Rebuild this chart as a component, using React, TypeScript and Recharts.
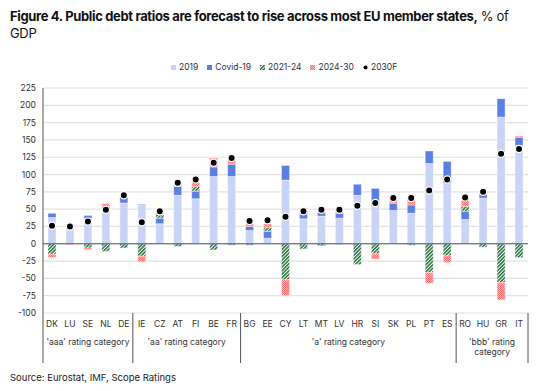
import React from 'react';
import { ComposedChart, Bar, Line, XAxis, YAxis, CartesianGrid, ReferenceLine } from 'recharts';

const countries = ['DK','LU','SE','NL','DE','IE','CZ','AT','FI','BE','FR','BG','EE','CY','LT','MT','LV','HR','SI','SK','PL','PT','ES','RO','HU','GR','IT'];
const groupSizes = [5, 6, 12, 4];
const groupLabels = [["'aaa' rating category"], ["'aa' rating category"], ["'a' rating category"], ["'bbb' rating", 'category']];

const v2019 = [38, 21, 37, 49, 59, 56, 29, 70, 65, 97, 97, 19, 8, 92, 36, 40, 37, 70, 54, 48, 44, 116, 88, 35, 66, 183, 142];
const vCovid = [6, 0, 4, 5, 8, 1, 8, 13, 11, 14, 18, 6, 10, 21, 7, 5, 7, 16, 26, 10.5, 12, 18, 31, 12, 5, 26.5, 12];
const v2124 = [-15, 0, -6, -11, -6, -18, 5.5, -4, 6.5, -9, -2, -2, 6, -52, -7.5, -3, -1, -30, -14.5, 0, -2, -41.5, -17.5, 7, -5, -56, -20];
const v2430 = [-5, -1.5, -2.5, 4, 3, -8, 3, 3, 6, 13, 9, 4, 5, -23, 9, 3, 3, 0, -7.5, 5, 8, -15.5, -9.5, 8.5, 3, -25, 2];
const v2030F = [26, 25, 32, 49, 70, 31, 47, 88, 93, 117, 124, 33, 34, 39, 47, 49, 49, 55, 59, 66, 66, 77, 93, 67, 75, 130, 137];
const yTicks = [-100, -75, -50, -25, 0, 25, 50, 75, 100, 125, 150, 175, 200, 225];
const seriesNames = ['2019', 'Covid-19', '2021-24', '2024-30', '2030F'];

const data = countries.map((c, i) => ({
  country: c,
  y2019: v2019[i],
  covid: vCovid[i],
  p2124: v2124[i],
  p2430: v2430[i],
  f2030: v2030F[i],
}));

const W = 550, H = 391;
const M = { top: 88, right: 22, bottom: 28, left: 8 };
const Y_AXIS_W = 35;
const X_AXIS_H = 50;
const bandW = (W - M.left - M.right - Y_AXIS_W) / countries.length;

const groupStart: Record<number, number> = {};
{
  let acc = 0;
  groupSizes.forEach((s, g) => { groupStart[acc] = g; acc += s; });
}

const C2019 = '#c9d3f5';
const CCOVID = '#5b7fe3';
const TXT = '#333';
const FONT = 'Inter, sans-serif';

function CountryTick(props: any) {
  const { x, y, payload } = props;
  const i = props.index ?? payload?.index;
  const els: any[] = [
    <text key="c" x={x} y={y + 13.5} textAnchor="middle" fontSize={8.5} fill={TXT} fontFamily={FONT}>{payload.value}</text>,
  ];
  if (groupStart[i] !== undefined) {
    const g = groupStart[i];
    const lx = x - bandW / 2;
    els.push(<line key="s" x1={lx} x2={lx} y1={y} y2={y + 50} stroke="#555" strokeWidth={1} />);
    const cx = x + ((groupSizes[g] - 1) / 2) * bandW;
    groupLabels[g].forEach((t, k) => {
      els.push(
        <text key={'g' + k} x={cx} y={y + 31.5 + k * 10} textAnchor="middle" fontSize={8.5} fill={TXT} fontFamily={FONT}>{t}</text>
      );
    });
  }
  if (i === countries.length - 1) {
    const rx = x + bandW / 2;
    els.push(<line key="e" x1={rx} x2={rx} y1={y} y2={y + 50} stroke="#555" strokeWidth={1} />);
  }
  return <g>{els}</g>;
}

function LegendMarker({ k }: { k: number }) {
  if (k === 4) {
    return (
      <svg width={5} height={5} style={{ marginRight: 3 }}>
        <circle cx={2.5} cy={2.5} r={2} fill="#000" />
      </svg>
    );
  }
  const fill = k === 0 ? C2019 : k === 1 ? CCOVID : k === 2 ? 'url(#lgHatch)' : 'url(#lgCheck)';
  return (
    <svg width={5} height={5} style={{ marginRight: 3 }}>
      <rect x={0} y={0} width={5} height={5} fill={fill} />
    </svg>
  );
}

export default function App() {
  return (
    <div style={{ position: 'absolute', left: 0, top: 0, width: W, height: H, background: '#fff', fontFamily: FONT }}>
      <svg width={0} height={0} style={{ position: 'absolute' }}>
        <defs>
          <pattern id="lgHatch" patternUnits="userSpaceOnUse" width={2.5} height={2.5} patternTransform="rotate(45)">
            <rect width={2.5} height={2.5} fill="#fff" />
            <rect width={1.5} height={2.5} fill="#24703c" />
          </pattern>
          <pattern id="lgCheck" patternUnits="userSpaceOnUse" width={2} height={2}>
            <rect width={2} height={2} fill="#ffb3b3" />
            <rect width={1} height={1} fill="#ff6f6f" />
            <rect x={1} y={1} width={1} height={1} fill="#ff6f6f" />
          </pattern>
        </defs>
      </svg>
      <ComposedChart width={W} height={H} data={data} margin={M} stackOffset="sign" barSize={8}>
        <defs>
          <pattern id="hatchG" patternUnits="userSpaceOnUse" width={2.5} height={2.5} patternTransform="rotate(45)">
            <rect width={2.5} height={2.5} fill="#ffffff" />
            <rect width={1.5} height={2.5} fill="#24703c" />
          </pattern>
          <pattern id="checkR" patternUnits="userSpaceOnUse" width={2} height={2}>
            <rect width={2} height={2} fill="#ffb3b3" />
            <rect width={1} height={1} fill="#ff6f6f" />
            <rect x={1} y={1} width={1} height={1} fill="#ff6f6f" />
          </pattern>
        </defs>
        <CartesianGrid vertical={false} stroke="#e3e3e3" strokeWidth={1.2} />
        <XAxis
          dataKey="country"
          height={X_AXIS_H}
          axisLine={false}
          tickLine={false}
          tickSize={0}
          tickMargin={0}
          interval={0}
          tick={(p: any) => <CountryTick {...p} />}
        />
        <YAxis
          width={Y_AXIS_W}
          domain={[-100, 225]}
          ticks={yTicks}
          interval={0}
          allowDataOverflow
          axisLine={{ stroke: '#555', strokeWidth: 1 }}
          tickLine={false}
          tickSize={0}
          tickMargin={7}
          tick={{ fontSize: 8.5, fill: TXT, fontFamily: FONT }}
        />
        <Bar dataKey="y2019" name={seriesNames[0]} stackId="a" fill={C2019} stroke="#fff" strokeWidth={0.4} isAnimationActive={false} />
        <Bar dataKey="covid" name={seriesNames[1]} stackId="a" fill={CCOVID} stroke="#fff" strokeWidth={0.4} isAnimationActive={false} />
        <Bar dataKey="p2124" name={seriesNames[2]} stackId="a" fill="url(#hatchG)" stroke="#fff" strokeWidth={0.4} isAnimationActive={false} />
        <Bar dataKey="p2430" name={seriesNames[3]} stackId="a" fill="url(#checkR)" stroke="#fff" strokeWidth={0.4} isAnimationActive={false} />
        <ReferenceLine y={0} stroke="#555" strokeWidth={1} />
        <Line
          dataKey="f2030"
          name={seriesNames[4]}
          stroke="none"
          strokeWidth={0}
          dot={{ r: 3.6, fill: '#000', stroke: '#fff', strokeWidth: 1.2 }}
          activeDot={false}
          isAnimationActive={false}
        />
      </ComposedChart>

      <div style={{ position: 'absolute', left: 10, top: 8, fontSize: 13, letterSpacing: '-0.35px', lineHeight: '16.5px', color: '#111', whiteSpace: 'nowrap' }}>
        <span style={{ fontWeight: 700 }}>Figure 4. Public debt ratios are forecast to rise across most EU member states,</span>
        <span style={{ fontWeight: 400 }}> % of</span>
        <br />
        <span style={{ fontWeight: 400 }}>GDP</span>
      </div>

      <div style={{ position: 'absolute', left: 171, top: 61, display: 'flex', alignItems: 'center', fontSize: 8.5, color: TXT, lineHeight: '12px' }}>
        {seriesNames.map((n, k) => (
          <div key={n} style={{ display: 'flex', alignItems: 'center', marginRight: 9 }}>
            <LegendMarker k={k} />
            <span>{n}</span>
          </div>
        ))}
      </div>

      <div style={{ position: 'absolute', left: 10, top: 372, fontSize: 9.5, color: '#222' }}>
        Source: Eurostat, IMF, Scope Ratings
      </div>
    </div>
  );
}
